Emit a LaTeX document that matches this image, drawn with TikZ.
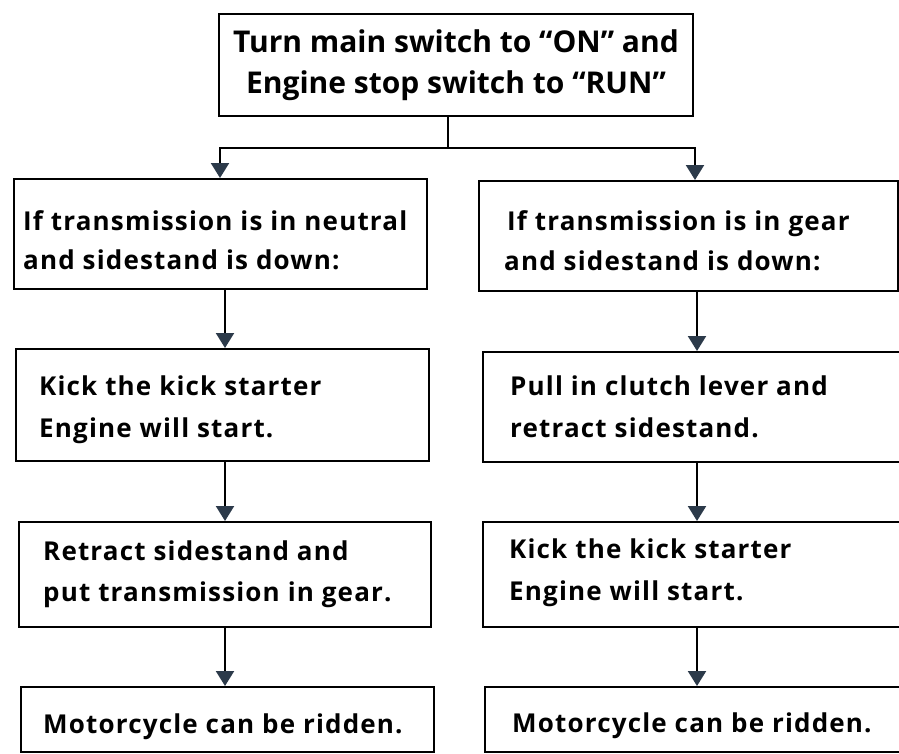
\documentclass[tikz,border=0pt]{standalone}
\usepackage{fontspec}
\setmainfont{Open Sans}
\newfontfamily\colfont[LetterSpace=4.5]{Open Sans}
\usetikzlibrary{arrows.meta}
\definecolor{tipc}{RGB}{44,58,74}
\tikzset{
  box/.style={draw=black, line width=2.4pt, rectangle, inner sep=0pt, anchor=north west},
  conn/.style={draw=black, line width=2.2pt},
  arr/.style={conn, -{Triangle[width=18pt,length=15pt,fill=tipc,color=tipc]}},
  coltext/.style={inner sep=0pt, anchor=base west, font=\colfont\fontsize{26}{30}\selectfont\bfseries},
  toptext/.style={inner sep=0pt, anchor=base, font=\fontsize{30}{36}\selectfont\bfseries}
}
\begin{document}
\begin{tikzpicture}[x=1pt,y=1pt]
\useasboundingbox (0,0) rectangle (899,-753);
\fill[white] (0,0) rectangle (899,-753);
% boxes
\node[box, minimum width=474pt, minimum height=102pt] (top) at (218,-13) {};
\node[box, minimum width=413pt, minimum height=110pt] (L1) at (13,-178) {};
\node[box, minimum width=419pt, minimum height=110pt] (R1) at (478,-180) {};
\node[box, minimum width=413pt, minimum height=112pt] (L2) at (15,-348) {};
\node[box, minimum width=440pt, minimum height=110pt] (R2) at (482,-351) {};
\node[box, minimum width=412pt, minimum height=105pt] (L3) at (18,-521) {};
\node[box, minimum width=440pt, minimum height=105pt] (R3) at (482,-521) {};
\node[box, minimum width=413pt, minimum height=65pt] (L4) at (20,-686) {};
\node[box, minimum width=440pt, minimum height=65pt] (R4) at (484,-686) {};
% texts
\node[toptext] (t1) at (456,-52) {Turn main switch to “ON” and};
\node[toptext] (t2) at (456,-93) {Engine stop switch to “RUN”};
\node[coltext] (L1a) at (23,-230) {If transmission is in neutral};
\node[coltext] (L1b) at (23,-269) {and sidestand is down:};
\node[coltext] (R1a) at (507,-230) {If transmission is in gear};
\node[coltext] (R1b) at (504,-270) {and sidestand is down:};
\node[coltext] (L2a) at (39,-395) {Kick the kick starter};
\node[coltext] (L2b) at (39,-437) {Engine will start.};
\node[coltext] (R2a) at (510,-395) {Pull in clutch lever and};
\node[coltext] (R2b) at (510,-437) {retract sidestand.};
\node[coltext] (L3a) at (43,-560) {Retract sidestand and};
\node[coltext] (L3b) at (43,-601) {put transmission in gear.};
\node[coltext] (R3a) at (509,-558) {Kick the kick starter};
\node[coltext] (R3b) at (509,-600) {Engine will start.};
\node[coltext] (L4a) at (43,-733) {Motorcycle can be ridden.};
\node[coltext] (R4a) at (512,-732) {Motorcycle can be ridden.};
% connectors
\coordinate (split) at (448,-148);
\coordinate (lc) at (225,0);
\coordinate (rc) at (697,0);
\draw[conn] (top.south -| split) -- (split);
\draw[arr] (split) -| ([xshift=-5pt]L1.north -| lc);
\draw[arr] (split) -| ([xshift=-2pt]R1.north -| rc);
\draw[arr] (L1.south -| lc) -- (L2.north -| lc);
\draw[arr] (R1.south -| rc) -- (R2.north -| rc);
\draw[arr] (L2.south -| lc) -- (L3.north -| lc);
\draw[arr] (R2.south -| rc) -- (R3.north -| rc);
\draw[arr] (L3.south -| lc) -- (L4.north -| lc);
\draw[arr] (R3.south -| rc) -- (R4.north -| rc);
\end{tikzpicture}
\end{document}
